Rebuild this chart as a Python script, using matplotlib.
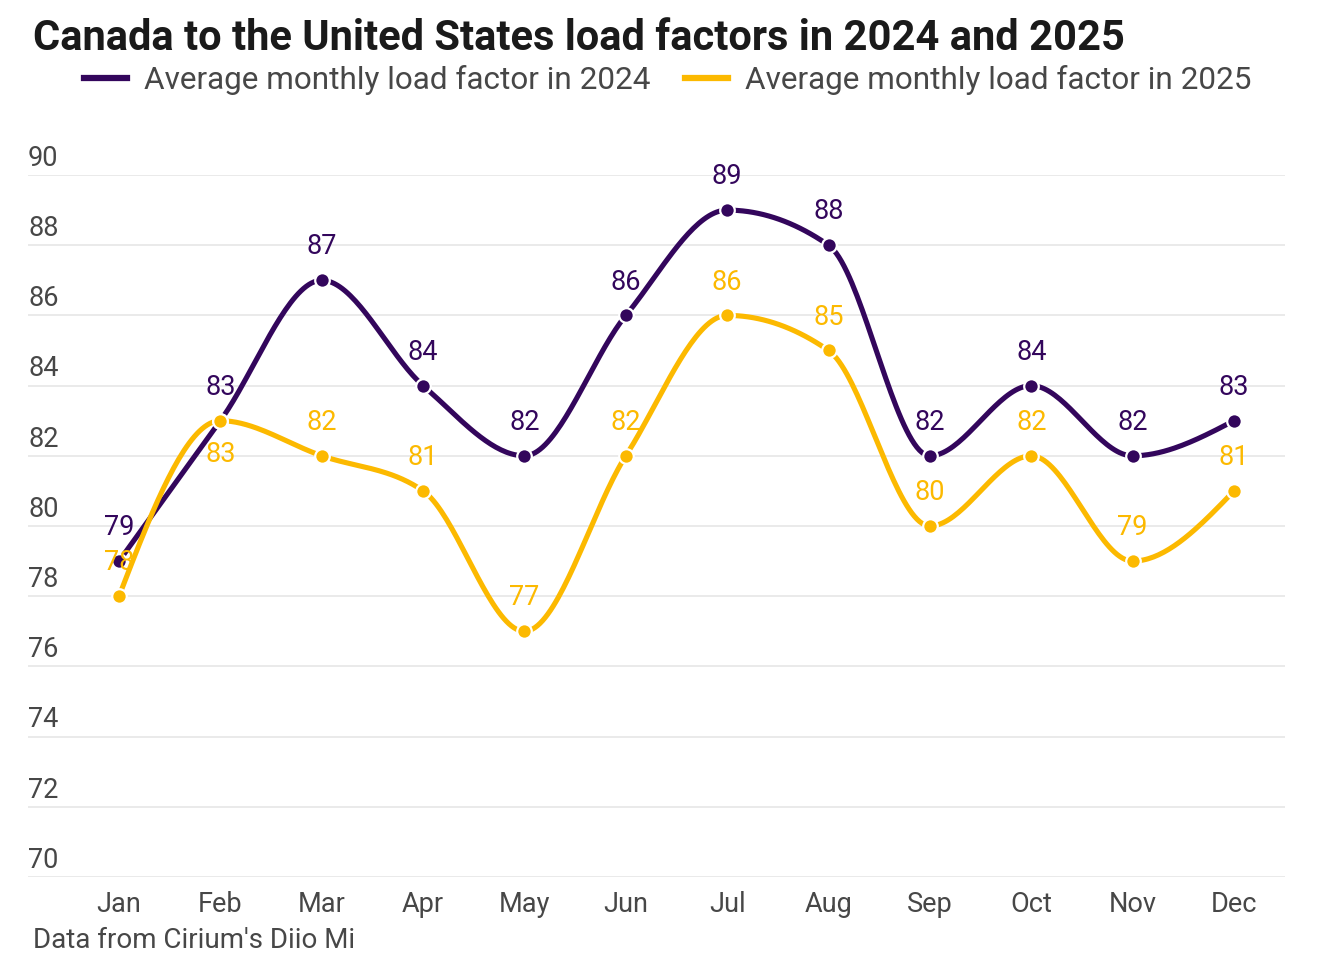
import numpy as np
import matplotlib.pyplot as plt
from matplotlib.lines import Line2D

months = ['Jan', 'Feb', 'Mar', 'Apr', 'May', 'Jun', 'Jul', 'Aug', 'Sep', 'Oct', 'Nov', 'Dec']
lf_2024 = [79, 83, 87, 84, 82, 86, 89, 88, 82, 84, 82, 83]
lf_2025 = [78, 83, 82, 81, 77, 82, 86, 85, 80, 82, 79, 81]
y_ticks = list(range(70, 91, 2))

purple = '#33065c'
yellow = '#fcb900'
grey = '#474747'

plt.rcParams['font.family'] = ['Roboto', 'DejaVu Sans']


def monotone_x(y, n=40):
    # same idea as d3.curveMonotoneX, points spaced 1 apart
    y = np.asarray(y, dtype=float)
    k = len(y)
    t = np.zeros(k)
    for i in range(1, k - 1):
        s0 = y[i] - y[i - 1]
        s1 = y[i + 1] - y[i]
        p = (s0 + s1) / 2
        t[i] = (np.sign(s0) + np.sign(s1)) * min(abs(s0), abs(s1), 0.5 * abs(p))
    t[0] = (3 * (y[1] - y[0]) - t[1]) / 2
    t[-1] = (3 * (y[-1] - y[-2]) - t[-2]) / 2
    xs, ys = [], []
    s = np.linspace(0, 1, n)
    for i in range(k - 1):
        h00 = 2 * s**3 - 3 * s**2 + 1
        h10 = s**3 - 2 * s**2 + s
        h01 = -2 * s**3 + 3 * s**2
        h11 = s**3 - s**2
        xs.extend(i + s)
        ys.extend(h00 * y[i] + h10 * t[i] + h01 * y[i + 1] + h11 * t[i + 1])
    return np.array(xs), np.array(ys)


fig = plt.figure(figsize=(13.2, 9.8), dpi=100)
ax = fig.add_axes([28 / 1320, 103 / 980, 1257 / 1320, 702 / 980])
x = np.arange(len(months))

for vals, col in [(lf_2024, purple), (lf_2025, yellow)]:
    sx, sy = monotone_x(vals)
    ax.plot(sx, sy, color=col, lw=3.7, solid_capstyle='round', zorder=3, clip_on=False)
    ax.plot(x, vals, 'o', color=col, ms=10.5, mec='white', mew=1.6, zorder=4, clip_on=False)

for i, v in enumerate(lf_2024):
    ax.annotate(str(v), (i, v), xytext=(0, 24), textcoords='offset points',
                ha='center', va='center', fontsize=19.5, color=purple, zorder=5)
for i, v in enumerate(lf_2025):
    dy = -24 if months[i] == 'Feb' else 24
    ax.annotate(str(v), (i, v), xytext=(0, dy), textcoords='offset points',
                ha='center', va='center', fontsize=19.5, color=yellow, zorder=5)

ax.set_xlim(-0.898, 11.503)
ax.set_ylim(70, 90)
ax.set_yticks(y_ticks)
ax.set_yticklabels([])
ax.grid(axis='y', color='#e6e6e6', lw=1.2)
ax.set_axisbelow(True)
for sp in ax.spines.values():
    sp.set_visible(False)
ax.tick_params(length=0)
ax.set_xticks(x)
ax.set_xticklabels(months, fontsize=19.5, color=grey)
ax.tick_params(axis='x', pad=10)

for v in y_ticks:
    ax.annotate(str(v), (0, v), xycoords=('axes fraction', 'data'), xytext=(0, 12),
                textcoords='offset points', ha='left', va='center', fontsize=19.5, color=grey)

fig.text(33 / 1320, 1 - 38 / 980, 'Canada to the United States load factors in 2024 and 2025',
         fontsize=30, fontweight='bold', color='#1a1a1a', va='center', ha='left')

handles = [Line2D([], [], color=purple, lw=4.5), Line2D([], [], color=yellow, lw=4.5)]
fig.legend(handles, ['Average monthly load factor in 2024', 'Average monthly load factor in 2025'],
           loc='center', bbox_to_anchor=(668 / 1320, 1 - 80 / 980), ncol=2, frameon=False,
           fontsize=22.7, labelcolor=grey, handlelength=1.35, handletextpad=0.55, columnspacing=1.1)

fig.text(33 / 1320, 1 - 940 / 980, "Data from Cirium's Diio Mi", fontsize=20, color=grey,
         va='center', ha='left')

fig.savefig('out.png', dpi=100)
